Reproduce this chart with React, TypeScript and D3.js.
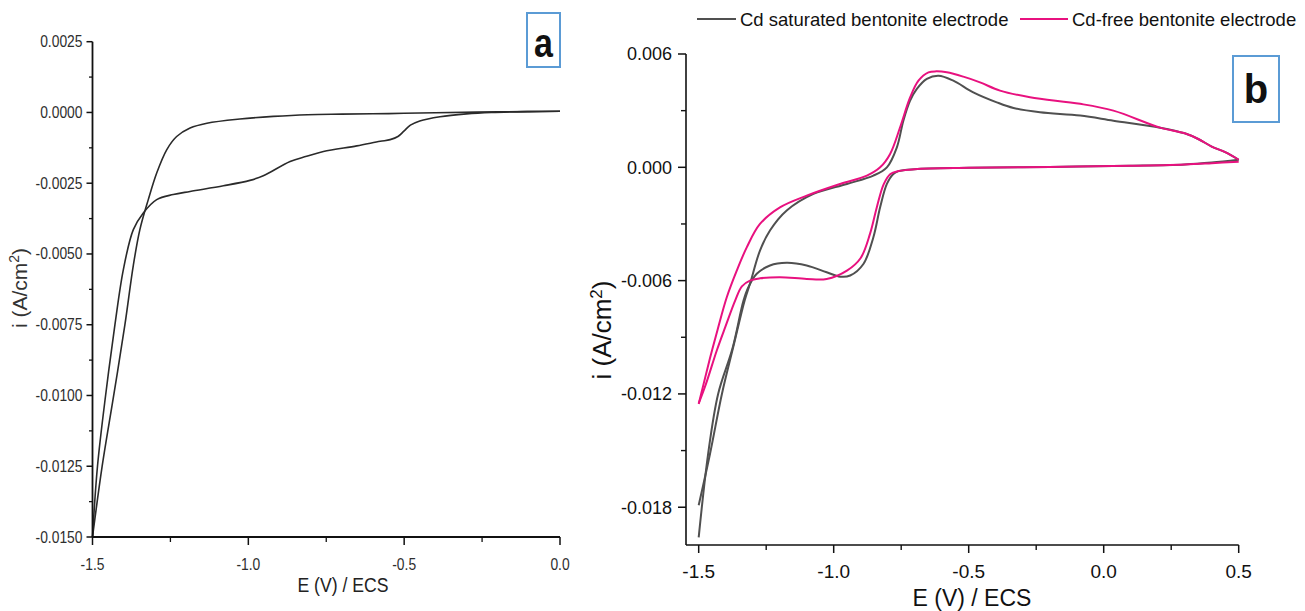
import React from "react";
import * as d3 from "d3";

// ---------- Panel a data ----------
const aUpperE = [0, -0.2, -0.4, -0.55, -0.7, -0.81, -0.92, -1.027, -1.133, -1.187, -1.23, -1.262, -1.294, -1.321, -1.348, -1.369, -1.396, -1.432, -1.469, -1.5];
const aUpperI = [0.00004, 0.00002, -0.00001, -0.00004, -0.00006, -0.00008, -0.00014, -0.00023, -0.00038, -0.00055, -0.00085, -0.00132, -0.00214, -0.00308, -0.00414, -0.0054, -0.0075, -0.01, -0.0125, -0.015];
const aLowerE = [0, -0.1, -0.22, -0.3, -0.385, -0.45, -0.48, -0.5, -0.52, -0.545, -0.577, -0.652, -0.759, -0.813, -0.866, -0.952, -0.995, -1.08, -1.187, -1.241, -1.294, -1.337, -1.369, -1.401, -1.428, -1.458, -1.484, -1.5];
const aLowerI = [0.00004, 0.00003, 0.0, -0.00005, -0.00015, -0.0003, -0.00045, -0.00065, -0.00085, -0.00096, -0.00102, -0.00118, -0.00138, -0.00155, -0.00173, -0.00224, -0.0024, -0.00259, -0.00279, -0.0029, -0.00308, -0.00355, -0.00414, -0.00555, -0.0075, -0.01, -0.0125, -0.015];

const aYTicks = [0.0025, 0, -0.0025, -0.005, -0.0075, -0.01, -0.0125, -0.015];
const aYTickLabels = ["0.0025", "0.0000", "-0.0025", "-0.0050", "-0.0075", "-0.0100", "-0.0125", "-0.0150"];
const aYMinor = [0.00125, -0.00125, -0.00375, -0.00625, -0.00875, -0.01125, -0.01375];
const aXTicks = [-1.5, -1.0, -0.5, 0.0];
const aXTickLabels = ["-1.5", "-1.0", "-0.5", "0.0"];
const aXMinor = [-1.25, -0.75, -0.25];

// ---------- Panel b data ----------
const cdSatUpE = [0.5, 0.45, 0.4, 0.35, 0.3, 0.209, 0.036, -0.087, -0.236, -0.334, -0.396, -0.483, -0.557, -0.612, -0.655, -0.692, -0.717, -0.742, -0.766, -0.803, -0.853, -0.951, -1.075, -1.174, -1.236, -1.273, -1.31, -1.33, -1.37, -1.414, -1.458, -1.5];
const cdSatUpI = [0.0004, 0.0008, 0.0011, 0.0015, 0.0018, 0.0021, 0.00247, 0.00274, 0.00291, 0.00314, 0.00344, 0.00397, 0.00459, 0.00485, 0.00468, 0.00415, 0.00353, 0.00247, 0.00106, 0.0, -0.00044, -0.00088, -0.00141, -0.00229, -0.00335, -0.00441, -0.00617, -0.00706, -0.0094, -0.012, -0.01517, -0.0179];
const cdSatDnE = [0.5, 0.4, 0.3, 0.1, -0.2, -0.5, -0.7, -0.76, -0.779, -0.803, -0.828, -0.853, -0.89, -0.939, -0.976, -1.026, -1.1, -1.174, -1.236, -1.285, -1.316, -1.334, -1.375, -1.428, -1.465, -1.5];
const cdSatDnI = [0.0004, 0.00025, 0.00015, 0.00008, 0.00002, -0.00003, -0.0001, -0.0002, -0.00035, -0.00088, -0.00212, -0.0037, -0.00512, -0.00573, -0.00579, -0.00556, -0.0052, -0.00506, -0.0052, -0.00564, -0.00635, -0.00706, -0.0096, -0.012, -0.01517, -0.0196];

const cdFreeUpE = [0.5, 0.45, 0.4, 0.35, 0.3, 0.209, 0.036, -0.087, -0.273, -0.384, -0.458, -0.52, -0.581, -0.62, -0.649, -0.686, -0.717, -0.754, -0.791, -0.828, -0.877, -0.976, -1.1, -1.199, -1.273, -1.322, -1.359, -1.396, -1.43, -1.458, -1.484, -1.5];
const cdFreeUpI = [0.0004, 0.0008, 0.0011, 0.0015, 0.0018, 0.0021, 0.003, 0.00336, 0.00371, 0.00406, 0.0045, 0.0048, 0.00503, 0.00508, 0.00503, 0.00459, 0.0037, 0.00212, 0.00071, 0.0, -0.00044, -0.00088, -0.0015, -0.00212, -0.003, -0.00424, -0.00547, -0.00688, -0.0086, -0.0101, -0.0116, -0.01253];
const cdFreeDnE = [0.5, 0.4, 0.3, 0.1, -0.2, -0.5, -0.7, -0.76, -0.79, -0.815, -0.84, -0.865, -0.9, -0.951, -1.026, -1.1, -1.199, -1.273, -1.31, -1.34, -1.365, -1.4, -1.433, -1.473, -1.5];
const cdFreeDnI = [0.0003, 0.00022, 0.00015, 0.00008, 0.00002, -0.00003, -0.0001, -0.0002, -0.00035, -0.0009, -0.0021, -0.0035, -0.0048, -0.00547, -0.00591, -0.00591, -0.00582, -0.00588, -0.006, -0.0063, -0.00706, -0.0084, -0.0097, -0.01147, -0.0125];

const bYTicks = [0.006, 0, -0.006, -0.012, -0.018];
const bYTickLabels = ["0.006", "0.000", "-0.006", "-0.012", "-0.018"];
const bYMinor = [0.003, -0.003, -0.009, -0.015];
const bXTicks = [-1.5, -1.0, -0.5, 0.0, 0.5];
const bXTickLabels = ["-1.5", "-1.0", "-0.5", "0.0", "0.5"];
const bXMinor = [-1.25, -0.75, -0.25, 0.25];

const legendLabels = ["Cd saturated bentonite electrode", "Cd-free bentonite electrode"];
const seriesColors = ["#505050", "#e8117f"];

const zip = (xs: number[], ys: number[]) => xs.map((x, k) => [x, ys[k]] as [number, number]);

const SANS = "'Liberation Sans', Arial, sans-serif";

function NarrowText(props: {
  x: number;
  y: number;
  sx?: number;
  size: number;
  anchor?: "start" | "middle" | "end";
  fill?: string;
  weight?: string;
  rotate?: number;
  children: React.ReactNode;
}) {
  const { x, y, sx = 0.84, size, anchor = "start", fill = "#333", weight = "normal", rotate = 0, children } = props;
  return (
    <text
      transform={`translate(${x},${y}) rotate(${rotate}) scale(${sx},1)`}
      textAnchor={anchor}
      fontFamily={SANS}
      fontSize={size}
      fontWeight={weight}
      fill={fill}
    >
      {children}
    </text>
  );
}

export default function App() {
  // panel a scales
  const xA = d3.scaleLinear().domain([-1.5, 0]).range([92.5, 560]);
  const yA = d3.scaleLinear().domain([-0.015, 0.0025]).range([537, 41.7]);
  const lineA = d3.line<[number, number]>().x((d) => xA(d[0])).y((d) => yA(d[1])).curve(d3.curveCatmullRom.alpha(0.5));

  // panel b scales
  const xB = d3.scaleLinear().domain([-1.547, 0.5]).range([686, 1238.7]);
  const yB = d3.scaleLinear().domain([-0.02, 0.006]).range([545, 54]);
  const lineB = d3.line<[number, number]>().x((d) => xB(d[0])).y((d) => yB(d[1])).curve(d3.curveCatmullRom.alpha(0.5));

  const aX0 = xA(-1.5);
  const aYb = yA(-0.015);
  const bX0 = xB(-1.547);
  const bYb = yB(-0.02);

  return (
    <svg width={1305} height={611} style={{ position: "absolute", left: 0, top: 0, background: "#fff" }}>
      <rect x={0} y={0} width={1305} height={611} fill="#fff" />
      {/* ===== Panel a ===== */}
      <g>
        <path d={lineA(zip(aUpperE, aUpperI)) || ""} fill="none" stroke="#2a2a2a" strokeWidth={1.6} />
        <path d={lineA(zip(aLowerE, aLowerI)) || ""} fill="none" stroke="#2a2a2a" strokeWidth={1.6} />
        <line x1={aX0} x2={aX0} y1={yA(0.0025)} y2={aYb} stroke="#111" strokeWidth={1.8} />
        <line x1={aX0} x2={xA(0)} y1={aYb} y2={aYb} stroke="#111" strokeWidth={1.8} />
        {aYTicks.map((t, k) => (
          <g key={"ay" + k}>
            <line x1={aX0 - 6} x2={aX0} y1={yA(t)} y2={yA(t)} stroke="#111" strokeWidth={1.5} />
            <NarrowText x={aX0 - 10} y={yA(t) + 5.5} size={16.5} anchor="end" fill="#2e2e2e">
              {aYTickLabels[k]}
            </NarrowText>
          </g>
        ))}
        {aYMinor.map((t, k) => (
          <line key={"aym" + k} x1={aX0 - 3.5} x2={aX0} y1={yA(t)} y2={yA(t)} stroke="#111" strokeWidth={1.3} />
        ))}
        {aXTicks.map((t, k) => (
          <g key={"ax" + k}>
            <line x1={xA(t)} x2={xA(t)} y1={aYb} y2={aYb + 8} stroke="#111" strokeWidth={1.5} />
            <NarrowText x={xA(t)} y={aYb + 33} size={16.5} anchor="middle" fill="#2e2e2e">
              {aXTickLabels[k]}
            </NarrowText>
          </g>
        ))}
        {aXMinor.map((t, k) => (
          <line key={"axm" + k} x1={xA(t)} x2={xA(t)} y1={aYb} y2={aYb + 5} stroke="#111" strokeWidth={1.3} />
        ))}
        <NarrowText x={343} y={592} size={21} anchor="middle" fill="#222">
          E (V) / ECS
        </NarrowText>
        <text transform="translate(27,288) rotate(-90)" textAnchor="middle" fontFamily={SANS} fontSize={21} fill="#333">
          i (A/cm<tspan dy={-8} fontSize={14}>2</tspan><tspan dy={8}>)</tspan>
        </text>
        <rect x={527} y={13} width={33} height={54} fill="#fff" stroke="#5b9bd5" strokeWidth={2} />
        <NarrowText x={543.5} y={57} size={40} anchor="middle" fill="#111" weight="bold" sx={0.85}>
          a
        </NarrowText>
      </g>

      {/* ===== Panel b ===== */}
      <g>
        <path d={lineB(zip(cdSatUpE, cdSatUpI)) || ""} fill="none" stroke={seriesColors[0]} strokeWidth={2} />
        <path d={lineB(zip(cdSatDnE, cdSatDnI)) || ""} fill="none" stroke={seriesColors[0]} strokeWidth={2} />
        <path d={lineB(zip(cdFreeUpE, cdFreeUpI)) || ""} fill="none" stroke={seriesColors[1]} strokeWidth={2} />
        <path d={lineB(zip(cdFreeDnE, cdFreeDnI)) || ""} fill="none" stroke={seriesColors[1]} strokeWidth={2} />
        <line x1={bX0} x2={bX0} y1={yB(0.006)} y2={bYb} stroke="#111" strokeWidth={1.6} />
        <line x1={bX0} x2={xB(0.5)} y1={bYb} y2={bYb} stroke="#111" strokeWidth={1.6} />
        {bYTicks.map((t, k) => (
          <g key={"by" + k}>
            <line x1={bX0 - 8} x2={bX0} y1={yB(t)} y2={yB(t)} stroke="#111" strokeWidth={1.5} />
            <text x={bX0 - 14} y={yB(t)} dy="0.36em" textAnchor="end" fontFamily={SANS} fontSize={18} fill="#111">
              {bYTickLabels[k]}
            </text>
          </g>
        ))}
        {bYMinor.map((t, k) => (
          <line key={"bym" + k} x1={bX0 - 5} x2={bX0} y1={yB(t)} y2={yB(t)} stroke="#111" strokeWidth={1.4} />
        ))}
        {bXTicks.map((t, k) => (
          <g key={"bx" + k}>
            <line x1={xB(t)} x2={xB(t)} y1={bYb} y2={bYb + 8} stroke="#111" strokeWidth={1.5} />
            <text x={xB(t)} y={bYb + 33} textAnchor="middle" fontFamily={SANS} fontSize={19} fill="#111">
              {bXTickLabels[k]}
            </text>
          </g>
        ))}
        {bXMinor.map((t, k) => (
          <line key={"bxm" + k} x1={xB(t)} x2={xB(t)} y1={bYb} y2={bYb + 5} stroke="#111" strokeWidth={1.4} />
        ))}
        <text x={972} y={606} textAnchor="middle" fontFamily={SANS} fontSize={23} fill="#111">
          E (V) / ECS
        </text>
        <text transform="translate(611,330) rotate(-90)" textAnchor="middle" fontFamily={SANS} fontSize={26} fill="#111">
          i (A/cm<tspan dy={-9} fontSize={17}>2</tspan><tspan dy={9}>)</tspan>
        </text>
        {/* legend */}
        <line x1={697} x2={736} y1={19} y2={19} stroke={seriesColors[0]} strokeWidth={2} />
        <text x={740} y={25.5} fontFamily={SANS} fontSize={18.5} fill="#111">
          {legendLabels[0]}
        </text>
        <line x1={1020} x2={1068} y1={19} y2={19} stroke={seriesColors[1]} strokeWidth={2} />
        <text x={1072} y={25.5} fontFamily={SANS} fontSize={18.5} fill="#111">
          {legendLabels[1]}
        </text>
        <rect x={1233} y={56} width={46} height={66} fill="#fff" stroke="#5b9bd5" strokeWidth={2} />
        <text x={1256} y={103} textAnchor="middle" fontFamily={SANS} fontWeight="bold" fontSize={40} fill="#111">
          b
        </text>
      </g>
    </svg>
  );
}
